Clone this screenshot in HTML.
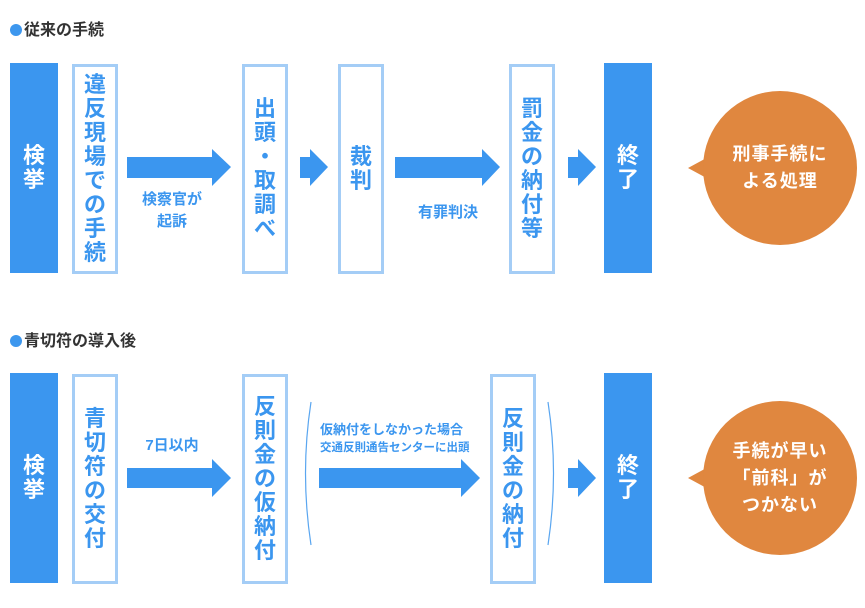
<!DOCTYPE html>
<html><head><meta charset="utf-8"><style>
body{margin:0;width:865px;height:608px;background:#fff;position:relative;overflow:hidden;font-family:"Liberation Sans","Noto Sans CJK JP",sans-serif;font-weight:bold}
.a{position:absolute}
.h{font-size:16px;color:#333;left:10px}
.h span{display:inline-block;width:12px;height:12px;border-radius:50%;background:#3d97ee;margin-right:2px;vertical-align:-1px}
.solid{position:absolute;background:#3b96ef;width:48px;height:210px}
.out{position:absolute;border:3px solid #a4cdf6;width:40px;height:204px;box-sizing:content-box}
.vt{position:absolute;left:0;top:0;width:100%;height:100%;display:flex;flex-direction:column;align-items:center;justify-content:center;font-size:22px;line-height:24px;color:#3b96ef}
.solid .vt{color:#fff}
.lbl{position:absolute;color:#3b96ef;font-size:15px;text-align:center;line-height:22px}
.circ{position:absolute;width:154px;height:154px;border-radius:50%;background:#e0873f;color:#fff;font-size:18px;letter-spacing:1px;line-height:27px;display:flex;align-items:center;justify-content:center;text-align:center}
</style></head><body>
<div class="a h" style="top:16px"><span></span>従来の手続</div>
<div class="a h" style="top:327px"><span></span>青切符の導入後</div>

<svg class="a" style="left:0;top:0" width="865" height="608">
<g fill="#3b96ef">
<polygon points="127,157 212,157 212,149 231,167 212,186 212,178 127,178"/>
<polygon points="300,157 310,157 310,149 328,167 310,186 310,178 300,178"/>
<polygon points="395,157 482,157 482,149 500,167 482,186 482,178 395,178"/>
<polygon points="568,157 578,157 578,149 596,167 578,186 578,178 568,178"/>
<polygon points="127,468 212,468 212,459 231,478 212,497 212,488 127,488"/>
<polygon points="319,468 461,468 461,459 480,478 461,497 461,488 319,488"/>
<polygon points="568,468 578,468 578,459 596,478 578,497 578,488 568,488"/>
</g>
<g fill="#e0873f">
<polygon points="688,168 712,155 712,181"/>
<polygon points="688,478 712,465 712,491"/>
</g>
<g fill="none" stroke="#5aa6f0" stroke-width="1.2">
<path d="M311,402 Q300,473 311,545"/>
<path d="M548,402 Q559,473 548,545"/>
</g>
</svg>

<div class="solid" style="left:10px;top:63px"><div class="vt">検<br>挙</div></div>
<div class="out" style="left:72px;top:64px"><div class="vt">違<br>反<br>現<br>場<br>で<br>の<br>手<br>続</div></div>
<div class="out" style="left:242px;top:64px"><div class="vt">出<br>頭<br>・<br>取<br>調<br>べ</div></div>
<div class="out" style="left:338px;top:64px"><div class="vt">裁<br>判</div></div>
<div class="out" style="left:509px;top:64px"><div class="vt">罰<br>金<br>の<br>納<br>付<br>等</div></div>
<div class="solid" style="left:604px;top:63px"><div class="vt">終<br>了</div></div>
<div class="lbl" style="left:122px;top:189px;width:100px">検察官が<br>起訴</div>
<div class="lbl" style="left:398px;top:202px;width:100px">有罪判決</div>
<div class="circ" style="left:703px;top:91px">刑事手続に<br>よる処理</div>

<div class="solid" style="left:10px;top:373px"><div class="vt">検<br>挙</div></div>
<div class="out" style="left:72px;top:374px"><div class="vt">青<br>切<br>符<br>の<br>交<br>付</div></div>
<div class="out" style="left:242px;top:374px"><div class="vt">反<br>則<br>金<br>の<br>仮<br>納<br>付</div></div>
<div class="out" style="left:490px;top:374px"><div class="vt">反<br>則<br>金<br>の<br>納<br>付</div></div>
<div class="solid" style="left:604px;top:373px"><div class="vt">終<br>了</div></div>
<div class="lbl" style="left:122px;top:435px;width:100px">7日以内</div>
<div class="lbl" style="left:312px;top:421px;width:170px;font-size:13px;line-height:17px;text-align:left;padding-left:8px;white-space:nowrap">仮納付をしなかった場合<br><span style="font-size:11.5px">交通反則通告センターに出頭</span></div>
<div class="circ" style="left:703px;top:401px">手続が早い<br>「前科」が<br>つかない</div>
</body></html>
